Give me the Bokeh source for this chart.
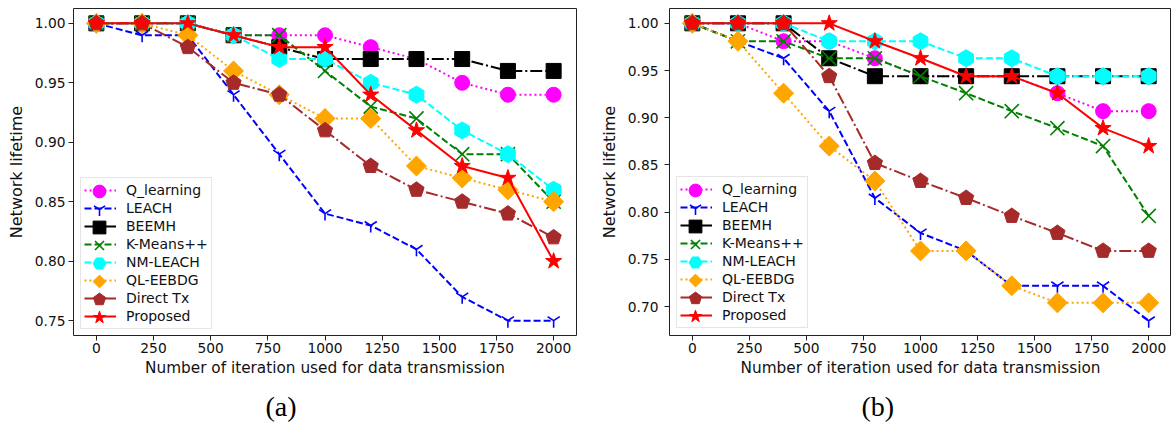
import math

from bokeh.embed import file_html
from bokeh.layouts import row
from bokeh.models import (FixedTicker, Legend, LegendItem, PrintfTickFormatter,
                          Range1d, Title)
from bokeh.plotting import figure
from bokeh.resources import INLINE

iterations = [0, 200, 400, 600, 800, 1000, 1200, 1400, 1600, 1800, 2000]
x_ticks = [0, 250, 500, 750, 1000, 1250, 1500, 1750, 2000]

series_names = ["Q_learning", "LEACH", "BEEMH", "K-Means++",
                "NM-LEACH", "QL-EEBDG", "Direct Tx", "Proposed"]

# panel (a)
a_q_learning = [1.00, 1.00, 1.00, 0.99, 0.99, 0.99, 0.98, 0.97, 0.95, 0.94, 0.94]
a_leach      = [1.00, 0.99, 0.99, 0.94, 0.89, 0.84, 0.83, 0.81, 0.77, 0.75, 0.75]
a_beemh      = [1.00, 1.00, 1.00, 0.99, 0.98, 0.97, 0.97, 0.97, 0.97, 0.96, 0.96]
a_kmeans     = [1.00, 1.00, 1.00, 0.99, 0.99, 0.96, 0.93, 0.92, 0.89, 0.89, 0.85]
a_nm_leach   = [1.00, 1.00, 1.00, 0.99, 0.97, 0.97, 0.95, 0.94, 0.91, 0.89, 0.86]
a_ql_eebdg   = [1.00, 1.00, 0.99, 0.96, 0.94, 0.92, 0.92, 0.88, 0.87, 0.86, 0.85]
a_direct_tx  = [1.00, 1.00, 0.98, 0.95, 0.94, 0.91, 0.88, 0.86, 0.85, 0.84, 0.82]
a_proposed   = [1.00, 1.00, 1.00, 0.99, 0.98, 0.98, 0.94, 0.91, 0.88, 0.87, 0.80]
a_y_ticks = [0.75, 0.80, 0.85, 0.90, 0.95, 1.00]

# panel (b)
b_q_learning = [1.000, 1.000, 0.981, 0.981, 0.963, 0.944, 0.944, 0.944, 0.926, 0.907, 0.907]
b_leach      = [1.000, 0.981, 0.963, 0.907, 0.815, 0.778, 0.759, 0.722, 0.722, 0.722, 0.685]
b_beemh      = [1.000, 1.000, 1.000, 0.963, 0.944, 0.944, 0.944, 0.944, 0.944, 0.944, 0.944]
b_kmeans     = [1.000, 0.981, 0.981, 0.963, 0.963, 0.944, 0.926, 0.907, 0.889, 0.870, 0.796]
b_nm_leach   = [1.000, 1.000, 1.000, 0.981, 0.981, 0.981, 0.963, 0.963, 0.944, 0.944, 0.944]
b_ql_eebdg   = [1.000, 0.981, 0.926, 0.870, 0.833, 0.759, 0.759, 0.722, 0.704, 0.704, 0.704]
b_direct_tx  = [1.000, 1.000, 1.000, 0.944, 0.852, 0.833, 0.815, 0.796, 0.778, 0.759, 0.759]
b_proposed   = [1.000, 1.000, 1.000, 1.000, 0.981, 0.963, 0.944, 0.944, 0.926, 0.889, 0.870]
b_y_ticks = [0.70, 0.75, 0.80, 0.85, 0.90, 0.95, 1.00]

# colour, dash, marker (int = regular polygon sides), size (polygon: radius), angle
STYLES = [
    ("#ff00ff", "2 3", "circle", 15, 0.0),
    ("#0000ff", "7 3", "y", 14, 0.0),
    ("#000000", "12 3 2 3", "square", 15, 0.0),
    ("#008000", "7 3", "x", 20, 0.0),
    ("#00ffff", "7 3", "hex", 17, math.pi / 2),
    ("#ffa500", "2 3", 4, 10, 0.0),
    ("#a52a2a", "12 3 2 3", 5, 8, 0.0),
    ("#ff0000", "solid", "star", 17, 0.0),
]

FONT = "DejaVu Sans"
ROW = 18        # legend row pitch
PAD = 3         # legend padding
GLYPH_W = 32


def make_panel(series, y_ticks, caption, width, border_left, border_right,
               border_top, y_min, y_max, label_standoff, caption_offset,
               legend_x, legend_y):
    p = figure(width=width, height=433, output_backend="svg",
               toolbar_location=None,
               x_range=Range1d(-100, 2100), y_range=Range1d(y_min, y_max),
               min_border_left=border_left, min_border_right=border_right,
               min_border_top=border_top, min_border_bottom=98)
    p.grid.visible = False
    p.outline_line_color = "#222222"
    p.outline_line_width = 1
    p.background_fill_color = "white"
    p.border_fill_color = "white"

    line_items = []
    marker_renderers = []
    for name, values, (color, dash, marker, size, angle) in zip(series_names, series, STYLES):
        ln = p.line(iterations, values, line_color=color, line_width=2,
                    line_dash=dash)
        if isinstance(marker, int):
            mk = p.ngon(x=iterations, y=values, radius=size,
                        radius_units="screen", n=marker, angle=angle,
                        fill_color=color, line_color=color)
        else:
            mk = p.scatter(iterations, values, marker=marker, size=size,
                           angle=angle, fill_color=color, line_color=color,
                           line_width=1.6 if marker in ("x", "y") else 1)
        line_items.append(LegendItem(label=name, renderers=[ln]))
        marker_renderers.append((name, mk))

    n = len(series_names)
    # framed legend: lines and labels
    legend = Legend(items=line_items, location=(legend_x, legend_y),
                    orientation="vertical",
                    label_text_font=FONT, label_text_font_size="14px",
                    label_text_color="#111111",
                    glyph_width=GLYPH_W, glyph_height=ROW, label_height=ROW,
                    spacing=0, label_standoff=10, padding=PAD, margin=0,
                    border_line_color="#cccccc", border_line_width=1,
                    background_fill_color="white", background_fill_alpha=0.8)
    p.add_layout(legend, "center")

    # larger legend markers, one per row, centred on the rows above
    for i, (name, mk) in enumerate(marker_renderers):
        ypos = legend_y + PAD - ROW // 2 + ROW * (n - 1 - i)
        overlay = Legend(items=[LegendItem(label=name, renderers=[mk])],
                         location=(legend_x + PAD, ypos),
                         label_text_font=FONT, label_text_font_size="14px",
                         label_text_alpha=0,
                         glyph_width=GLYPH_W, glyph_height=2 * ROW,
                         label_height=ROW, spacing=0, padding=0, margin=0,
                         label_standoff=10,
                         border_line_color=None, background_fill_alpha=0)
        p.add_layout(overlay, "center")

    for ax in (p.xaxis[0], p.yaxis[0]):
        ax.axis_line_color = None
        ax.major_tick_line_color = "#222222"
        ax.major_tick_out = 5
        ax.major_tick_in = 0
        ax.minor_tick_line_color = None
        ax.major_label_text_font = FONT
        ax.major_label_text_font_size = "13.8px"
        ax.major_label_text_color = "#111111"
        ax.axis_label_text_font = FONT
        ax.axis_label_text_font_style = "normal"
        ax.axis_label_text_color = "#111111"

    p.xaxis.ticker = FixedTicker(ticks=x_ticks)
    p.xaxis.major_label_standoff = 2
    p.xaxis.axis_label = "Number of iteration used for data transmission"
    p.xaxis.axis_label_text_font_size = "15.3px"
    p.xaxis.axis_label_standoff = 3

    p.yaxis.ticker = FixedTicker(ticks=y_ticks)
    p.yaxis.formatter = PrintfTickFormatter(format="%.2f")
    p.yaxis.major_label_standoff = label_standoff
    p.yaxis.axis_label = "Network lifetime"
    p.yaxis.axis_label_text_font_size = "16px"
    p.yaxis.axis_label_standoff = 6

    # sub-figure caption
    p.add_layout(Title(text=caption, align="left", offset=caption_offset,
                       text_font="Liberation Serif", text_font_size="28px",
                       text_font_style="normal", text_color="black",
                       standoff=19), "below")
    return p


left = make_panel([a_q_learning, a_leach, a_beemh, a_kmeans, a_nm_leach,
                   a_ql_eebdg, a_direct_tx, a_proposed],
                  a_y_ticks, "(a)", 590, 73, 14, 8, 0.7375, 1.0125, 3, 192,
                  7, 6)
right = make_panel([b_q_learning, b_leach, b_beemh, b_kmeans, b_nm_leach,
                    b_ql_eebdg, b_direct_tx, b_proposed],
                   b_y_ticks, "(b)", 581, 79, 0, 6, 0.6694, 1.0157, 6, 192,
                   7, 7)

layout = row(left, right)
open("out.html", "w").write(file_html(layout, INLINE))
